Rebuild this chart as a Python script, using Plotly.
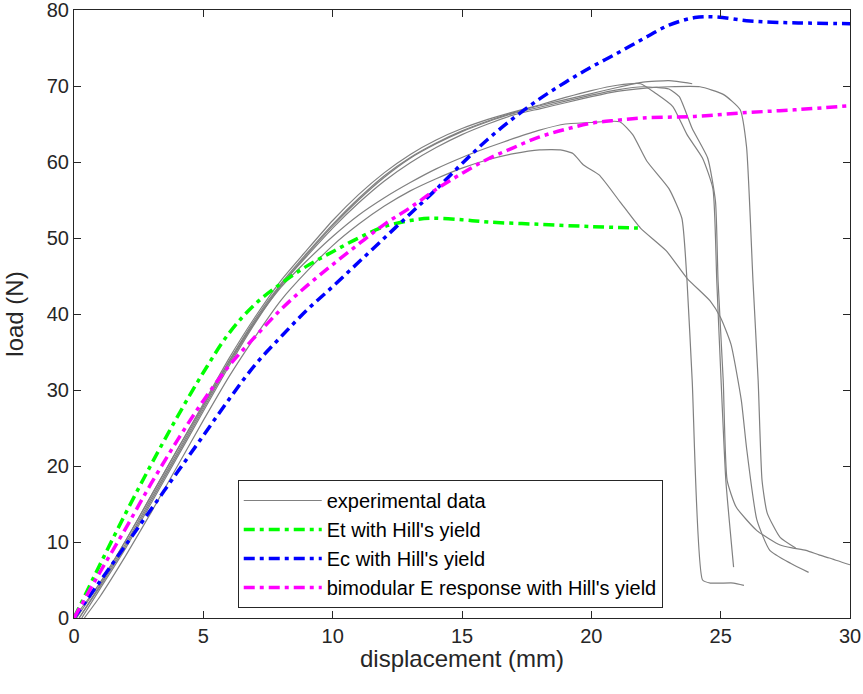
import plotly.graph_objects as go

# ---------------- data ----------------
exp_E_x = [0.2, 1, 2, 3, 4, 5, 6, 7, 8, 9, 10, 11, 12, 13, 14, 15, 16, 17, 18, 19, 20, 21, 22, 23, 23.9]
exp_E_y = [0, 4.3, 9.8, 15.8, 21.8, 27.8, 33.8, 39.3, 44, 48, 51.8, 55.2, 58.2, 60.6, 62.5, 64.1, 65.4, 66.5, 67.4, 68.2, 69.0, 69.8, 70.5, 70.7, 70.3]

exp_B_x = [0.1, 1, 2, 3, 4, 5, 6, 7, 8, 9, 10, 11, 12, 13, 14, 15, 16, 17, 18, 19, 20, 21, 21.9, 22.5, 23.15, 23.7, 24.3, 24.7, 24.85, 25.05, 25.2, 25.5]
exp_B_y = [0, 4.6, 10.2, 16.2, 22.2, 28.2, 34.2, 39.6, 44.4, 48.4, 52.3, 55.7, 58.6, 61.0, 62.9, 64.4, 65.6, 66.6, 67.5, 68.5, 69.4, 70.1, 70.3, 69, 67.3, 63.6, 60.5, 56.5, 44.3, 28.6, 18.1, 6.7]

exp_C_x = [0.3, 1, 2, 3, 4, 5, 6, 7, 8, 9, 10, 11, 12, 13, 14, 15, 16, 17, 18, 19, 20, 21, 22, 23.0, 23.4, 23.9, 24.5, 24.8, 24.9, 25.1, 25.25, 25.6, 26.4, 27.3, 27.8, 28.3, 28.8, 29.2, 30]
exp_C_y = [0, 3.8, 9.2, 15.2, 21.2, 27.2, 33.2, 38.8, 43.7, 47.8, 51.6, 55.0, 58.0, 60.5, 62.4, 64.0, 65.3, 66.4, 67.2, 68.0, 68.8, 69.5, 69.9, 69.6, 68.6, 64.4, 60.5, 54.8, 44.3, 31.2, 18.1, 14.6, 11.5, 9.6, 9.2, 8.9, 8.3, 7.9, 7.0]

exp_D_x = [0.2, 1, 2, 3, 4, 5, 6, 7, 8, 9, 10, 11, 12, 13, 14, 15, 16, 17, 18, 19, 20, 21, 22, 23, 24.2, 25.1, 25.75, 26.0, 26.25, 26.45, 26.6, 26.8, 27.3, 27.9]
exp_D_y = [0, 4.1, 9.5, 15.5, 21.5, 27.5, 33.5, 39.0, 43.8, 47.6, 51.3, 54.6, 57.5, 59.9, 61.9, 63.6, 65.0, 66.2, 67.0, 67.8, 68.6, 69.3, 69.7, 69.9, 69.9, 68.9, 66.9, 62.0, 44.3, 31.2, 18.1, 13.8, 10.6, 9.2]

exp_F_x = [0.0, 1, 2, 3, 4, 5, 6, 7, 8, 9, 10, 11, 12, 13, 14, 15, 16, 17, 18, 19, 20, 21.1, 21.6, 22.15, 23.0, 23.5, 23.7, 23.9, 24.3, 24.6, 25.5, 25.9]
exp_F_y = [0, 4.6, 10.2, 16.2, 22.2, 28.0, 33.8, 39.0, 43.5, 47.0, 50.2, 53.0, 55.3, 57.3, 59.1, 60.6, 61.9, 63.1, 64.2, 65.0, 65.2, 65.3, 63.6, 60.1, 56.5, 52.6, 44.3, 31.2, 5.0, 4.6, 4.6, 4.3]

exp_G_x = [0.4, 1, 2, 3, 4, 5, 6, 7, 8, 9, 10, 11, 12, 13, 14, 15, 16, 17, 18, 18.8, 19.3, 19.7, 20.3, 21.1, 21.9, 22.9, 23.7, 24.6, 25.0, 25.4, 25.8, 26.0, 26.4, 26.9, 27.7, 28.4]
exp_G_y = [0, 2.8, 8.2, 14.0, 20.0, 26.0, 31.8, 37.0, 41.8, 45.6, 49.0, 51.8, 54.2, 56.2, 57.8, 59.2, 60.3, 61.1, 61.6, 61.6, 61.1, 59.6, 58.3, 54.8, 51.3, 48.3, 44.7, 41.7, 39.5, 36.0, 28.6, 22.4, 12.9, 8.9, 7.2, 6.0]

et_x = [0, 1, 2, 3, 4, 5, 6, 7, 8, 9, 10, 11, 12, 13, 13.8, 15, 16, 18, 20, 21.8]
et_y = [0, 7.0, 13.8, 20.3, 26.5, 32.3, 37.5, 41.3, 44.0, 46.3, 48.2, 50.0, 51.5, 52.3, 52.6, 52.4, 52.1, 51.8, 51.5, 51.3]

ec_x = [0, 1, 2, 3, 4, 5, 6, 7, 8, 9, 10, 11, 12, 13, 14, 15, 16, 17, 18, 19, 20, 21, 22, 23, 24, 24.8, 26, 27, 28, 30]
ec_y = [0, 4.8, 9.6, 14.4, 19.2, 24.0, 28.8, 33.3, 37.0, 40.5, 43.6, 46.8, 50.0, 53.2, 56.4, 59.8, 63.0, 65.8, 68.3, 70.5, 72.5, 74.3, 76.2, 78.0, 79.0, 79.1, 78.6, 78.4, 78.3, 78.2]

bi_x = [0, 1, 2, 3, 4, 5, 6, 7, 8, 9, 10, 11, 12, 13, 14, 15, 16, 17, 18, 19, 20, 21, 22, 24, 26, 28, 30]
bi_y = [0, 6.0, 11.8, 17.8, 23.4, 28.6, 33.2, 37.0, 40.6, 43.7, 46.5, 49.2, 51.8, 54.0, 56.4, 58.5, 60.4, 61.9, 63.3, 64.3, 65.1, 65.5, 65.8, 66.0, 66.5, 66.9, 67.4]

exp_curves = [(exp_E_x, exp_E_y), (exp_B_x, exp_B_y), (exp_C_x, exp_C_y),
              (exp_D_x, exp_D_y), (exp_F_x, exp_F_y), (exp_G_x, exp_G_y)]

x_ticks = [0, 5, 10, 15, 20, 25, 30]
y_ticks = [0, 10, 20, 30, 40, 50, 60, 70, 80]

# ---------------- figure ----------------
FONT = "Liberation Sans, Arial, sans-serif"
AX = "#262626"
DASH = "11px,5px,4px,5px"

fig = go.Figure()
for i, (xs, ys) in enumerate(exp_curves):
    fig.add_trace(go.Scatter(
        x=xs, y=ys, mode="lines", name="experimental data",
        line=dict(color="#808080", width=1.2, shape="spline", smoothing=0.5),
        legendgroup="exp", showlegend=(i == 0), hoverinfo="skip"))

fig.add_trace(go.Scatter(x=et_x, y=et_y, mode="lines", name="Et with Hill's yield",
                         legendgroup="et",
                         line=dict(color="#00FF00", width=3.5, dash=DASH, shape="spline")))
fig.add_trace(go.Scatter(x=ec_x, y=ec_y, mode="lines", name="Ec with Hill's yield",
                         legendgroup="ec",
                         line=dict(color="#0000FF", width=3.5, dash=DASH, shape="spline")))
fig.add_trace(go.Scatter(x=bi_x, y=bi_y, mode="lines", name="bimodular E response with Hill's yield",
                         legendgroup="bi",
                         line=dict(color="#FF00FF", width=3.5, dash=DASH, shape="spline")))

axis_common = dict(
    showline=True, linecolor=AX, linewidth=1, mirror="ticks",
    ticks="inside", ticklen=7, tickwidth=1.3, tickcolor=AX,
    showgrid=False, zeroline=False, ticklabeloverflow="allow", automargin=False,
    tickfont=dict(family=FONT, size=20, color=AX),
)

fig.update_xaxes(range=[0, 30], tickvals=x_ticks, ticktext=[str(v) for v in x_ticks],
                 **axis_common)
fig.update_yaxes(range=[0, 80], tickvals=y_ticks, ticktext=[str(v) for v in y_ticks],
                 title=dict(text="load (N)", font=dict(family=FONT, size=24, color=AX), standoff=16),
                 **axis_common)

PLOT_TOP, PLOT_BOTTOM = 10, 618
fig.add_annotation(
    text="displacement (mm)", xref="paper", yref="paper",
    x=0.5, y=-(658 - PLOT_BOTTOM) / (PLOT_BOTTOM - PLOT_TOP),
    xanchor="center", yanchor="middle", showarrow=False,
    font=dict(family=FONT, size=24, color=AX))

fig.update_layout(
    width=863, height=694,
    margin=dict(l=74, r=13, t=PLOT_TOP, b=694 - PLOT_BOTTOM),
    paper_bgcolor="white", plot_bgcolor="white",
    font=dict(family=FONT, color=AX),
    legend=dict(
        x=0.211, y=(618 - 480) / (PLOT_BOTTOM - PLOT_TOP), xanchor="left", yanchor="top",
        bgcolor="white", bordercolor="#262626", borderwidth=1,
        font=dict(family=FONT, size=20, color="black"),
        itemwidth=78, tracegroupgap=0, traceorder="normal",
    ),
    showlegend=True,
)

fig.write_html("out.html")
